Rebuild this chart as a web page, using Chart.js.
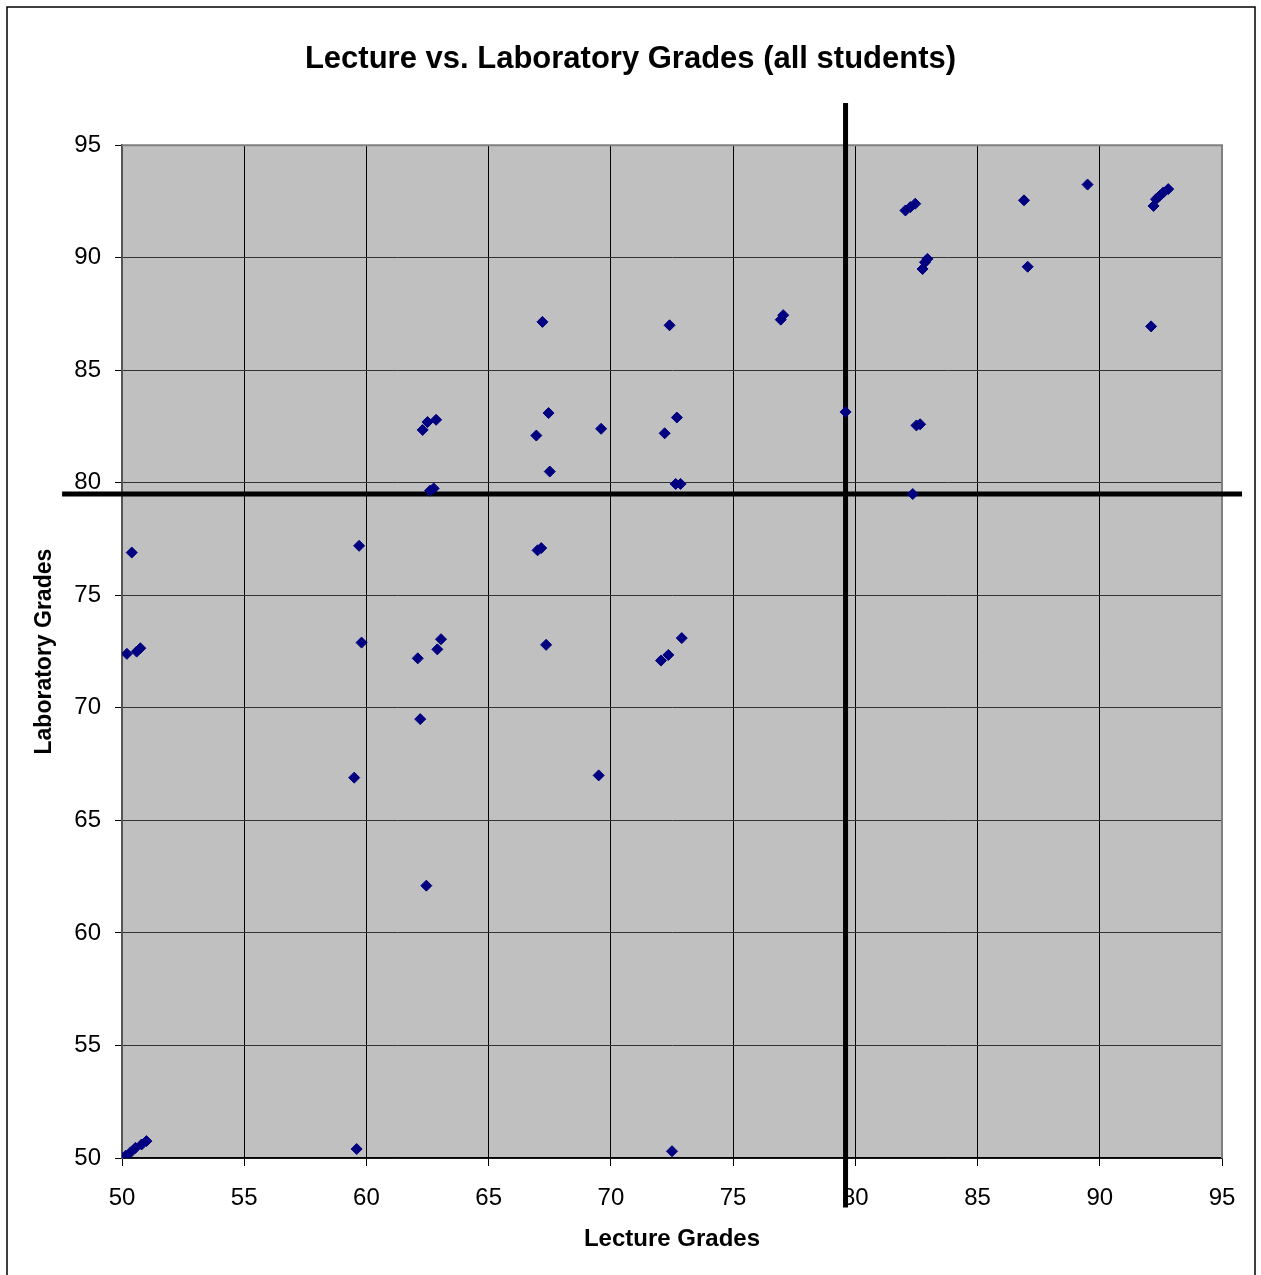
<!DOCTYPE html>
<html>
<head>
<meta charset="utf-8">
<title>Lecture vs. Laboratory Grades</title>
<script src="https://cdn.jsdelivr.net/npm/chart.js@4/dist/chart.umd.min.js"></script>
<style>
  body { margin: 0; background: #fff; }
  #wrap { width: 1261px; height: 1275px; position: relative; }
</style>
</head>
<body>
<div id="wrap"><canvas id="gradesChart"></canvas></div>
<script>
// lecture grade (x) and laboratory grade (y) for each student
const lectureGrades = [
  50.0, 50.15, 50.35, 50.55, 50.8, 51.0,
  50.4, 50.2, 50.6, 50.75,
  59.7, 59.8, 59.5, 59.6,
  62.3, 62.5, 62.85, 62.6, 62.75, 62.1, 62.9, 63.05, 62.2, 62.45,
  67.2, 67.45, 66.95, 67.5, 67.0, 67.15, 67.35,
  69.6, 69.5,
  72.4, 72.7, 72.2, 72.65, 72.85, 72.9, 72.05, 72.35, 72.5,
  76.95, 77.05,
  79.6,
  82.05, 82.25, 82.45, 82.75, 82.85, 82.95, 82.5, 82.65, 82.35,
  86.9, 87.05,
  89.5,
  92.2, 92.3, 92.45, 92.6, 92.8, 92.1
];
const labGrades = [
  50.0, 50.1, 50.25, 50.45, 50.6, 50.75,
  76.9, 72.4, 72.5, 72.65,
  77.2, 72.9, 66.9, 50.4,
  82.35, 82.7, 82.8, 79.65, 79.75, 72.2, 72.6, 73.05, 69.5, 62.1,
  87.15, 83.1, 82.1, 80.5, 77.0, 77.1, 72.8,
  82.4, 67.0,
  87.0, 82.9, 82.2, 79.95, 79.95, 73.1, 72.1, 72.35, 50.3,
  87.25, 87.45,
  83.15,
  92.1, 92.25, 92.4, 89.5, 89.8, 89.95, 82.55, 82.6, 79.5,
  92.55, 89.6,
  93.25,
  92.3, 92.6, 92.75, 92.9, 93.05, 86.95
];

// axis ticks
const lectureTicks = [50, 55, 60, 65, 70, 75, 80, 85, 90, 95];
const labTicks = [50, 55, 60, 65, 70, 75, 80, 85, 90, 95];

// pass cut-off lines (drawn a bit past the plot edges, like the original)
const lectureCutoff = 79.6;
const labCutoff = 79.5;
const cutoffVertSpan = [96.87, 47.8];   // lab-grade values for ends of vertical line
const cutoffHorizSpan = [47.55, 95.82]; // lecture-grade values for ends of horizontal line

const points = lectureGrades.map((x, i) => ({ x: x, y: labGrades[i] }));

const FONT = "'Liberation Sans', Arial, sans-serif";

// grey plot background + outer frame
const frame = {
  id: 'frame',
  beforeDraw(chart) {
    const { ctx, chartArea: a } = chart;
    ctx.save();
    ctx.fillStyle = '#ffffff';
    ctx.fillRect(0, 0, chart.width, chart.height);
    ctx.strokeStyle = '#000';
    ctx.lineWidth = 1.5;
    ctx.strokeRect(7, 7, chart.width - 13, chart.height + 10);
    ctx.fillStyle = '#c0c0c0';
    ctx.fillRect(a.left, a.top, a.right - a.left, a.bottom - a.top);
    ctx.restore();
  },
  beforeDatasetsDraw(chart) {
    const { ctx, chartArea: a } = chart;
    ctx.save();
    ctx.strokeStyle = '#808080';
    ctx.lineWidth = 2;
    ctx.beginPath();
    ctx.moveTo(a.left, a.top);
    ctx.lineTo(a.right, a.top);
    ctx.lineTo(a.right, a.bottom);
    ctx.stroke();
    ctx.restore();
  }
};

const ctx = document.getElementById('gradesChart').getContext('2d');
const gradesChart = new Chart(ctx, {
  type: 'scatter',
  data: {
    datasets: [{
      label: 'Students',
      data: points,
      pointStyle: 'rectRot',
      pointRadius: 5.5,
      pointHoverRadius: 5.5,
      backgroundColor: '#000080',
      borderColor: '#000080',
      borderWidth: 1
    }, {
      label: 'Lecture cut-off',
      type: 'line',
      data: cutoffVertSpan.map(v => ({ x: lectureCutoff, y: v })),
      borderColor: '#000',
      borderWidth: 5,
      pointRadius: 0,
      clip: false
    }, {
      label: 'Lab cut-off',
      type: 'line',
      data: cutoffHorizSpan.map(v => ({ x: v, y: labCutoff })),
      borderColor: '#000',
      borderWidth: 5,
      pointRadius: 0,
      clip: false
    }]
  },
  options: {
    responsive: true,
    maintainAspectRatio: false,
    animation: false,
    events: [],
    layout: { padding: 0 },
    plugins: {
      legend: { display: false },
      tooltip: { enabled: false },
      title: {
        display: true,
        text: 'Lecture vs. Laboratory Grades (all students)',
        color: '#000',
        font: { family: FONT, size: 31, weight: 'bold', lineHeight: 1.2 },
        padding: { top: 41, bottom: 67 }
      }
    },
    scales: {
      x: {
        type: 'linear',
        min: 50,
        max: 95,
        afterBuildTicks: axis => { axis.ticks = lectureTicks.map(v => ({ value: v })); },
        afterFit: axis => { axis.height = 117; },
        grid: { color: '#000', lineWidth: 1, tickLength: 8, tickColor: '#000' },
        border: { color: '#000', width: 1.5 },
        ticks: {
          color: '#000',
          padding: 18,
          maxRotation: 0,
          font: { family: FONT, size: 24 }
        },
        title: {
          display: true,
          text: 'Lecture Grades',
          color: '#000',
          font: { family: FONT, size: 24, weight: 'bold', lineHeight: 1.2 },
          padding: { top: 0, bottom: 21 }
        }
      },
      y: {
        type: 'linear',
        min: 50,
        max: 95,
        afterBuildTicks: axis => { axis.ticks = labTicks.map(v => ({ value: v })); },
        afterFit: axis => { axis.width = 122; },
        grid: { color: '#333', lineWidth: 1, tickLength: 7, tickColor: '#000' },
        border: { color: '#555', width: 2 },
        ticks: {
          color: '#000',
          padding: 14,
          font: { family: FONT, size: 24 }
        },
        title: {
          display: true,
          text: 'Laboratory Grades',
          color: '#000',
          font: { family: FONT, size: 23, weight: 'bold', lineHeight: 1.2 },
          padding: { top: 31, bottom: 0 }
        }
      },
      // empty right-hand margin so the title centres on the whole page
      margin: {
        type: 'linear',
        position: 'right',
        min: 0,
        max: 1,
        afterFit: axis => { axis.width = 39; },
        grid: { display: false },
        border: { display: false },
        ticks: { display: false }
      }
    }
  },
  plugins: [frame]
});
</script>
</body>
</html>
